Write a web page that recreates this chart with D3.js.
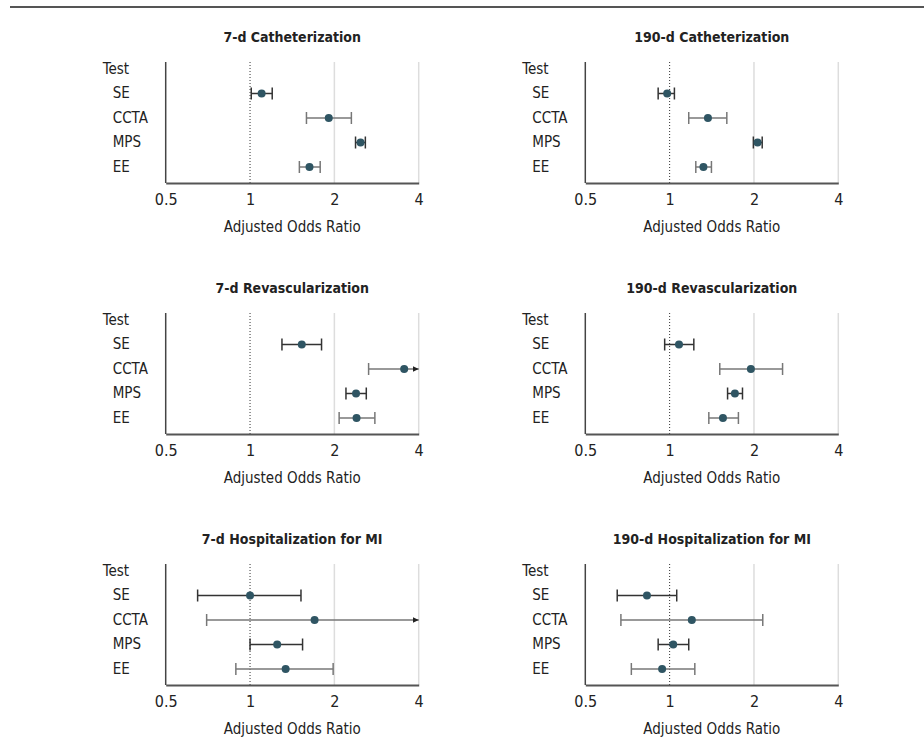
<!DOCTYPE html>
<html>
<head>
<meta charset="utf-8">
<script src="https://cdn.jsdelivr.net/npm/d3@7"></script>
<style>
  body { margin: 0; background: #fff; }
  svg text { font-family: "Liberation Sans Narrow", "DejaVu Sans Condensed", "Roboto", sans-serif; fill: #222; }
</style>
</head>
<body>
<script>
const width = 924;
const height = 751;

// row labels and tick labels
const tests = ["SE", "CCTA", "MPS", "EE"];
const ticks = [0.5, 1, 2, 4];

// panel titles
const titles = [
  "7-d Catheterization", "190-d Catheterization",
  "7-d Revascularization", "190-d Revascularization",
  "7-d Hospitalization for MI", "190-d Hospitalization for MI"
];

// odds ratios (point estimate, lower, upper) per panel, in test order
const cath7Est = [1.10, 1.91, 2.48, 1.63];
const cath7Lo = [1.01, 1.59, 2.38, 1.50];
const cath7Hi = [1.20, 2.30, 2.58, 1.78];

const cath190Est = [0.98, 1.37, 2.06, 1.32];
const cath190Lo = [0.91, 1.17, 1.99, 1.24];
const cath190Hi = [1.04, 1.60, 2.14, 1.41];

const revasc7Est = [1.53, 3.55, 2.39, 2.40];
const revasc7Lo = [1.30, 2.65, 2.20, 2.08];
const revasc7Hi = [1.80, 5.20, 2.60, 2.79];

const revasc190Est = [1.08, 1.95, 1.71, 1.55];
const revasc190Lo = [0.96, 1.51, 1.61, 1.38];
const revasc190Hi = [1.22, 2.53, 1.82, 1.76];

const mi7Est = [1.00, 1.70, 1.25, 1.34];
const mi7Lo = [0.65, 0.70, 1.00, 0.89];
const mi7Hi = [1.52, 6.50, 1.54, 1.98];

const mi190Est = [0.83, 1.20, 1.03, 0.94];
const mi190Lo = [0.65, 0.67, 0.91, 0.73];
const mi190Hi = [1.06, 2.15, 1.17, 1.23];

const panelEst = [cath7Est, cath190Est, revasc7Est, revasc190Est, mi7Est, mi190Est];
const panelLo = [cath7Lo, cath190Lo, revasc7Lo, revasc190Lo, mi7Lo, mi190Lo];
const panelHi = [cath7Hi, cath190Hi, revasc7Hi, revasc190Hi, mi7Hi, mi190Hi];

const svg = d3.select("body").append("svg")
  .attr("width", width)
  .attr("height", height);

// rule across the top
svg.append("line")
  .attr("x1", 10).attr("x2", width)
  .attr("y1", 7).attr("y2", 7)
  .attr("stroke", "#555").attr("stroke-width", 2);

const dotColor = "#2f5563";
const darkWhisker = "#333";
const lightWhisker = "#777";

const plotW = 253;
const plotH = 121;

svg.append("defs").append("marker")
  .attr("id", "arrow")
  .attr("viewBox", "0 0 10 10")
  .attr("refX", 10).attr("refY", 5)
  .attr("markerWidth", 6).attr("markerHeight", 6)
  .attr("markerUnits", "userSpaceOnUse")
  .attr("orient", "auto")
  .append("path")
  .attr("d", "M0,0L10,5L0,10Z")
  .attr("fill", "#222");

titles.forEach((title, p) => {
  const col = p % 2;
  const row = Math.floor(p / 2);
  const ox = col === 0 ? 165.7 : 585.3;
  const oy = 62 + row * 251;

  const g = svg.append("g").attr("transform", `translate(${ox},${oy})`);

  const x = d3.scaleLog().base(2).domain([0.5, 4]).range([0, plotW]);
  const y = d3.scalePoint().domain(["Test"].concat(tests)).range([7, 105]);

  // title
  g.append("text")
    .attr("x", plotW / 2)
    .attr("y", -24)
    .attr("text-anchor", "middle")
    .attr("dominant-baseline", "middle")
    .attr("font-weight", "bold")
    .attr("font-size", 14)
    .text(title);

  // light gridlines at 2 and 4
  g.selectAll(".grid")
    .data([2, 4])
    .join("line")
    .attr("x1", d => x(d)).attr("x2", d => x(d))
    .attr("y1", 0).attr("y2", plotH)
    .attr("stroke", "#ddd").attr("stroke-width", 1.5);

  // reference line at 1
  g.append("line")
    .attr("x1", x(1)).attr("x2", x(1))
    .attr("y1", 0).attr("y2", plotH)
    .attr("stroke", "#333").attr("stroke-width", 1)
    .attr("stroke-dasharray", "1,2");

  // x axis
  const xAxis = d3.axisBottom(x)
    .tickValues(ticks)
    .tickFormat(d => d === 0.5 ? "0.5" : d3.format("d")(d))
    .tickSize(0)
    .tickPadding(11);
  const ax = g.append("g")
    .attr("transform", `translate(0,${plotH})`)
    .call(xAxis);
  ax.select(".domain").attr("stroke", "#555").attr("stroke-width", 2);
  ax.selectAll(".tick text")
    .attr("font-size", 16)
    .attr("fill", "#222")
    .attr("font-family", "'Liberation Sans Narrow', 'DejaVu Sans Condensed', sans-serif");

  // y axis line
  g.append("line")
    .attr("x1", 0).attr("x2", 0)
    .attr("y1", 0).attr("y2", plotH)
    .attr("stroke", "#444").attr("stroke-width", 1.5);

  // axis title
  g.append("text")
    .attr("x", plotW / 2)
    .attr("y", plotH + 44)
    .attr("text-anchor", "middle")
    .attr("dominant-baseline", "middle")
    .attr("font-size", 15)
    .text("Adjusted Odds Ratio");

  // row labels
  g.append("text")
    .attr("x", -63)
    .attr("y", y("Test"))
    .attr("dominant-baseline", "middle")
    .attr("font-size", 15)
    .text("Test");
  g.selectAll(".lab")
    .data(tests)
    .join("text")
    .attr("x", -53)
    .attr("y", d => y(d))
    .attr("dominant-baseline", "middle")
    .attr("font-size", 15)
    .text(d => d);

  // estimates with confidence intervals
  const rows = tests.map((t, i) => ({
    test: t,
    est: panelEst[p][i],
    lo: panelLo[p][i],
    hi: panelHi[p][i],
    color: i % 2 === 0 ? darkWhisker : lightWhisker
  }));

  const r = g.selectAll(".row")
    .data(rows)
    .join("g")
    .attr("transform", d => `translate(0,${y(d.test)})`);

  r.append("line")
    .attr("x1", d => x(d.lo))
    .attr("x2", d => x(Math.min(d.hi, 4)))
    .attr("stroke", d => d.color)
    .attr("stroke-width", 1.5)
    .attr("marker-end", d => d.hi > 4 ? "url(#arrow)" : null);

  r.append("line")
    .attr("x1", d => x(d.lo)).attr("x2", d => x(d.lo))
    .attr("y1", -6).attr("y2", 6)
    .attr("stroke", d => d.color)
    .attr("stroke-width", 1.5);

  r.filter(d => d.hi <= 4).append("line")
    .attr("x1", d => x(d.hi)).attr("x2", d => x(d.hi))
    .attr("y1", -6).attr("y2", 6)
    .attr("stroke", d => d.color)
    .attr("stroke-width", 1.5);

  r.append("circle")
    .attr("cx", d => x(d.est))
    .attr("r", 4)
    .attr("fill", dotColor);
});
</script>
</body>
</html>
